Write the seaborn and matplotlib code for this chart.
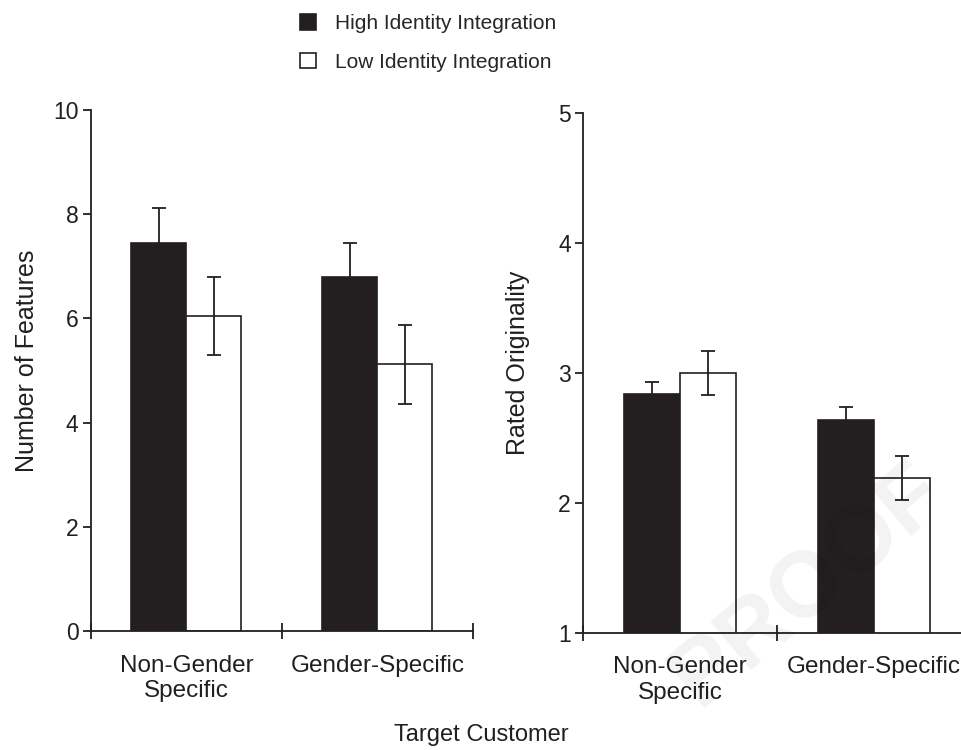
import numpy as np
import pandas as pd
import matplotlib
matplotlib.use("Agg")
import matplotlib.pyplot as plt
import seaborn as sns
from matplotlib.patches import Patch

# ── Data ───────────────────────────────────────────────────────
categories = ["Non-Gender\nSpecific", "Gender-Specific"]
groups = ["High Identity Integration", "Low Identity Integration"]

features_high = [7.44, 6.80]
features_low = [6.05, 5.12]
features_high_err = [0.67, 0.64]
features_low_err = [0.75, 0.76]

originality_high = [2.84, 2.64]
originality_low = [3.00, 2.19]
originality_high_err = [0.09, 0.10]
originality_low_err = [0.17, 0.17]

INK = "#231f20"

sns.set_style("white")
plt.rcParams["font.family"] = ["Liberation Sans", "DejaVu Sans"]


def draw_panel(ax, high, low, high_err, low_err, ylim, yticks, ylabel):
    df = pd.DataFrame({
        "target": categories * 2,
        "group": [groups[0]] * 2 + [groups[1]] * 2,
        "value": high + low,
    })
    sns.barplot(data=df, x="target", y="value", hue="group",
                order=categories, hue_order=groups,
                palette=[INK, "white"], saturation=1,
                edgecolor=INK, linewidth=1.2, width=0.576,
                errorbar=None, legend=False, ax=ax)

    # Error bars on top of each bar
    for cont, err in zip(ax.containers, [high_err, low_err]):
        xs = [b.get_x() + b.get_width() / 2 for b in cont]
        ys = [b.get_height() for b in cont]
        ax.errorbar(xs, ys, yerr=err, fmt="none", ecolor=INK,
                    elinewidth=1.3, capsize=5, capthick=1.3, zorder=5)

    ax.set_facecolor("none")
    ax.set_xlim(-0.5, 1.5)
    ax.set_ylim(*ylim)
    ax.set_yticks(yticks)
    ax.set_xticks([-0.5, 0.5, 1.5], labels=["", "", ""])
    ax.set_xticks([0, 1], labels=categories, minor=True)
    ax.tick_params(axis="x", which="major", bottom=True, direction="inout",
                   length=11, width=1.3, color=INK)
    ax.tick_params(axis="x", which="minor", bottom=True, length=0, pad=17,
                   labelsize=17.5, labelcolor=INK)
    ax.tick_params(axis="y", left=True, direction="out", length=6, width=1.3,
                   color=INK, labelsize=16.5, labelcolor=INK, pad=3)
    ax.set_xlabel("")
    ax.set_ylabel(ylabel, fontsize=18, color=INK)
    ax.yaxis.set_label_coords(-0.137, 0.518)
    sns.despine(ax=ax)
    for side in ["left", "bottom"]:
        ax.spines[side].set_color(INK)
        ax.spines[side].set_linewidth(1.3)


fig = plt.figure(figsize=(9.62, 7.5), dpi=100)
ax1 = fig.add_axes([0.0946, 0.1587, 0.3968, 0.6946])
ax2 = fig.add_axes([0.6063, 0.1564, 0.4033, 0.6933])

draw_panel(ax1, features_high, features_low, features_high_err,
           features_low_err, (0, 10), [0, 2, 4, 6, 8, 10],
           "Number of Features")
draw_panel(ax2, originality_high, originality_low, originality_high_err,
           originality_low_err, (1, 5), [1, 2, 3, 4, 5],
           "Rated Originality")

handles = [Patch(facecolor=INK, edgecolor=INK, linewidth=1.2),
           Patch(facecolor="white", edgecolor=INK, linewidth=1.2)]
fig.legend(handles, groups, loc="upper center", bbox_to_anchor=(0.445, 1.006),
           frameon=False, fontsize=15, handlelength=0.75, handleheight=0.75,
           labelspacing=0.95, handletextpad=0.9)

fig.text(0.5, 0.02, "Target Customer", ha="center", va="center",
         fontsize=17, color=INK)

# faint proof watermark
fig.text(0.84, 0.22, "PROOF", rotation=40, fontsize=66, fontweight="bold",
         color="black", alpha=0.05, ha="center", va="center", zorder=10)

fig.savefig("out.png", dpi=100)
